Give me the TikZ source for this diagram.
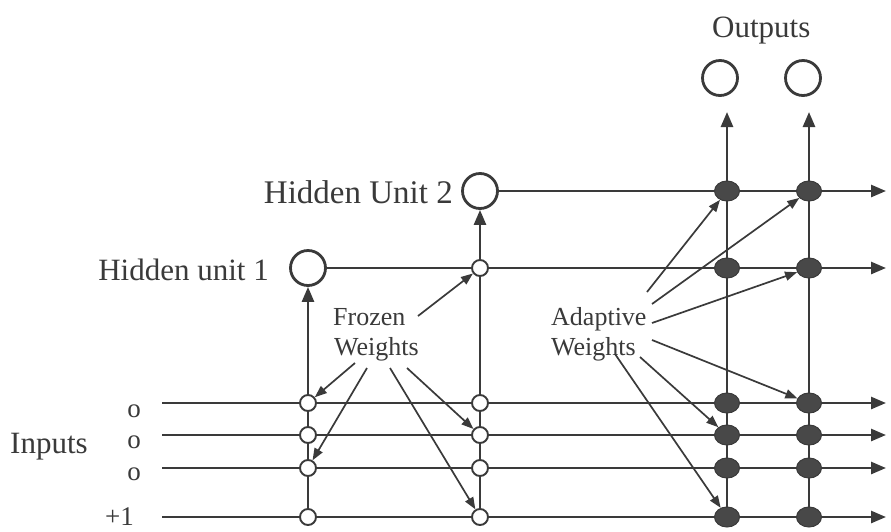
\documentclass[tikz,border=0pt]{standalone}
\usepackage{fontspec}
\setmainfont{Liberation Serif}
\usetikzlibrary{arrows.meta,backgrounds,shapes.geometric}
\definecolor{ink}{HTML}{3A3A3A}
\definecolor{dot}{HTML}{484848}
\begin{document}
\begin{tikzpicture}[x=1pt,y=-1pt,
 bigunit/.style={circle,draw=ink,line width=2.8pt,minimum size=35pt,inner sep=0pt,fill=white},
 frozenw/.style={circle,draw=ink,line width=1.9pt,minimum size=16pt,inner sep=0pt,fill=white},
 adaptw/.style={ellipse,draw=ink,line width=1pt,fill=dot,minimum width=25pt,minimum height=20pt,inner sep=0pt},
 wire/.style={draw=ink,line width=2.6pt,-{Triangle[length=15pt,width=12pt]}},
 pointer/.style={draw=ink,line width=1.7pt,-{Triangle[length=12pt,width=9pt]}},
 lbl/.style={text=ink,font=\fontsize{31}{36}\selectfont,inner sep=0pt},
 wlbl/.style={text=ink,font=\fontsize{26}{30}\selectfont,inner sep=0pt},
 inlbl/.style={text=ink,font=\fontsize{27}{30}\selectfont,inner sep=0pt},
]
\useasboundingbox (0,0) rectangle (891,531);

% units
\node[bigunit] (h1) at (308,268) {};
\node[bigunit] (h2) at (480,191) {};
\node[bigunit] (o1) at (720,78) {};
\node[bigunit] (o2) at (803,78) {};

% frozen weights
\node[frozenw] (f11) at (308,403) {};
\node[frozenw] (f12) at (308,435) {};
\node[frozenw] (f13) at (308,468) {};
\node[frozenw] (f14) at (308,517) {};
\node[frozenw] (f2h) at (480,268) {};
\node[frozenw] (f21) at (480,403) {};
\node[frozenw] (f22) at (480,435) {};
\node[frozenw] (f23) at (480,468) {};
\node[frozenw] (f24) at (480,517) {};

% adaptive weights
\foreach \c/\x in {a/727,b/809}{
  \node[adaptw] (\c h2) at (\x,191) {};
  \node[adaptw] (\c h1) at (\x,268) {};
  \node[adaptw] (\c 1) at (\x,403) {};
  \node[adaptw] (\c 2) at (\x,435) {};
  \node[adaptw] (\c 3) at (\x,468) {};
  \node[adaptw] (\c 4) at (\x,517) {};
}

% wire end coordinates
\coordinate (i1s) at (162,403); \coordinate (i1e) at (886,403);
\coordinate (i2s) at (162,435); \coordinate (i2e) at (886,435);
\coordinate (i3s) at (162,468); \coordinate (i3e) at (886,468);
\coordinate (i4s) at (162,517); \coordinate (i4e) at (886,517);
\coordinate (h1e) at (886,268);
\coordinate (h2e) at (886,191);
\coordinate (o1t) at (727,112);
\coordinate (o2t) at (809,112);

\begin{scope}[on background layer]
  \fill[white] (0,0) rectangle (891,531);
  \draw[wire] (i1s) -- (i1e);
  \draw[wire] (i2s) -- (i2e);
  \draw[wire] (i3s) -- (i3e);
  \draw[wire] (i4s) -- (i4e);
  \draw[wire] (h1) -- (h1e);
  \draw[wire] (h2) -- (h2e);
  \draw[wire] (f14.center) -- (h1);
  \draw[wire] (f24.center) -- (h2);
  \draw[wire] (a4.center) -- (o1t);
  \draw[wire] (b4.center) -- (o2t);
\end{scope}

% labels
\node[lbl,anchor=base west] (outl) at (712,37) {Outputs};
\node[lbl,anchor=base east,font=\fontsize{33}{36}\selectfont] (h2l) at (453,203) {Hidden Unit 2};
\node[lbl,anchor=base east] (h1l) at (269,280) {Hidden unit 1};
\node[lbl,anchor=base west] (inl) at (10,453) {Inputs};
\node[inlbl,anchor=base] (x1) at (134,417) {o};
\node[inlbl,anchor=base] (x2) at (134,448) {o};
\node[inlbl,anchor=base] (x3) at (134,480) {o};
\node[inlbl,anchor=base east] (x4) at (134,525) {+1};
\node[wlbl,anchor=base west] (fz1) at (333,325) {Frozen};
\node[wlbl,anchor=base west] (fz2) at (334,355) {Weights};
\node[wlbl,anchor=base west] (ad1) at (551,325) {Adaptive};
\node[wlbl,anchor=base west] (ad2) at (551,355) {Weights};

% pointer arrows
\coordinate (pf1) at (418,316);
\coordinate (pf2) at (355,363);
\coordinate (pf3) at (367,368);
\coordinate (pf4) at (390,368);
\coordinate (pf5) at (407,368);
\draw[pointer] (pf1) -- (f2h);
\draw[pointer] (pf2) -- (f11);
\draw[pointer] (pf3) -- (f13);
\draw[pointer] (pf4) -- (f24);
\draw[pointer] (pf5) -- (f22);

\coordinate (pa1) at (647,292);
\coordinate (pa2) at (652,304);
\coordinate (pa3) at (652,323);
\coordinate (pa4) at (652,340);
\coordinate (pa5) at (640,357);
\coordinate (pa6) at (615,354);
\draw[pointer] (pa1) -- (ah2);
\draw[pointer] (pa2) -- (bh2);
\draw[pointer] (pa3) -- (bh1);
\draw[pointer] (pa4) -- (b1);
\draw[pointer] (pa5) -- (a2);
\draw[pointer] (pa6) -- (a4);
\end{tikzpicture}
\end{document}
